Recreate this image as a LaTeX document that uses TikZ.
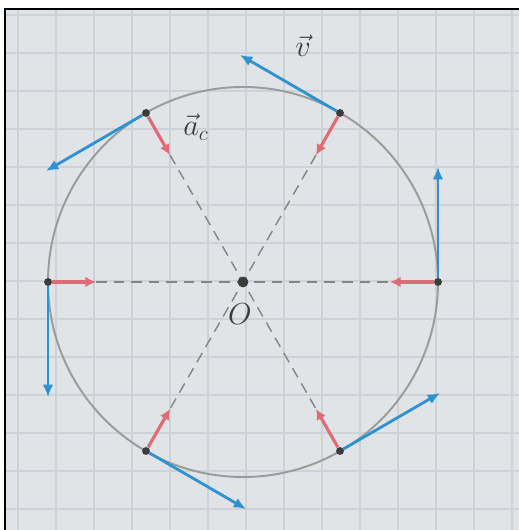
\documentclass[tikz,border=0pt]{standalone}
\usetikzlibrary{arrows.meta}
\definecolor{paper}{RGB}{224,228,230}
\definecolor{gridcol}{RGB}{204,210,215}
\definecolor{velblue}{RGB}{45,145,210}
\definecolor{accred}{RGB}{222,108,118}
\definecolor{pencil}{RGB}{155,155,155}
\definecolor{ink}{RGB}{60,60,60}

\begin{document}
\begin{tikzpicture}[x=0.02cm,y=0.02cm,
  dot/.style={circle,fill=ink,minimum size=4.5pt,inner sep=0pt},
  vel/.style={velblue,line width=1.6pt,-{Latex[length=7pt,width=6pt]}},
  acc/.style={accred,line width=1.8pt,-{Latex[length=6pt,width=6pt]}},
  diameter/.style={pencil!85!black,line width=0.8pt,dash pattern=on 6pt off 4pt},
  lbl/.style={text=ink,font=\LARGE}]
  \useasboundingbox (0,0) rectangle (519,530);
  % graph paper
  \fill[paper] (5,0) rectangle (519,521);
  \foreach \x in {18,56,...,512} \draw[gridcol,line width=0.8pt] (\x,0) -- (\x,521);
  \foreach \y in {21,59,...,515} \draw[gridcol,line width=0.8pt] (5,\y) -- (519,\y);
  \draw[line width=1.2pt] (5,0) -- (5,521) -- (519,521);

  % centre and points on the circle
  \node[dot,minimum size=6pt] (O) at (243,248) {};
  \draw[pencil,line width=1.1pt] (O) circle (195);
  \node[dot] (p0) at (438,248) {};
  \node[dot] (p60) at (340,417) {};
  \node[dot] (p120) at (146,417) {};
  \node[dot] (p180) at (48,248) {};
  \node[dot] (p240) at (146,79) {};
  \node[dot] (p300) at (340,79) {};

  % ends of the vectors
  \coordinate (v0) at (438,363);
  \coordinate (v60) at (240,475);
  \coordinate (v120) at (46,359);
  \coordinate (v180) at (48,133);
  \coordinate (v240) at (246,21);
  \coordinate (v300) at (440,137);
  \coordinate (a0) at (390,248);
  \coordinate (a60) at (316,375);
  \coordinate (a120) at (170,375);
  \coordinate (a180) at (96,248);
  \coordinate (a240) at (170,121);
  \coordinate (a300) at (316,121);

  \draw[diameter] (a180) -- (a0);
  \draw[diameter] (a120) -- (a300);
  \draw[diameter] (a60) -- (a240);

  \draw[vel] (p0) -- (v0);
  \draw[vel] (p60) -- (v60);
  \draw[vel] (p120) -- (v120);
  \draw[vel] (p180) -- (v180);
  \draw[vel] (p240) -- (v240);
  \draw[vel] (p300) -- (v300);

  \draw[acc] (p0) -- (a0);
  \draw[acc] (p60) -- (a60);
  \draw[acc] (p120) -- (a120);
  \draw[acc] (p180) -- (a180);
  \draw[acc] (p240) -- (a240);
  \draw[acc] (p300) -- (a300);

  \node[dot,minimum size=6pt] at (O) {};
  \node[lbl] (lv) at (303,484) {$\vec{v}$};
  \node[lbl] (lac) at (196,403) {$\vec{a}_c$};
  \node[lbl] (lO) at (240,216) {$O$};
\end{tikzpicture}
\end{document}
